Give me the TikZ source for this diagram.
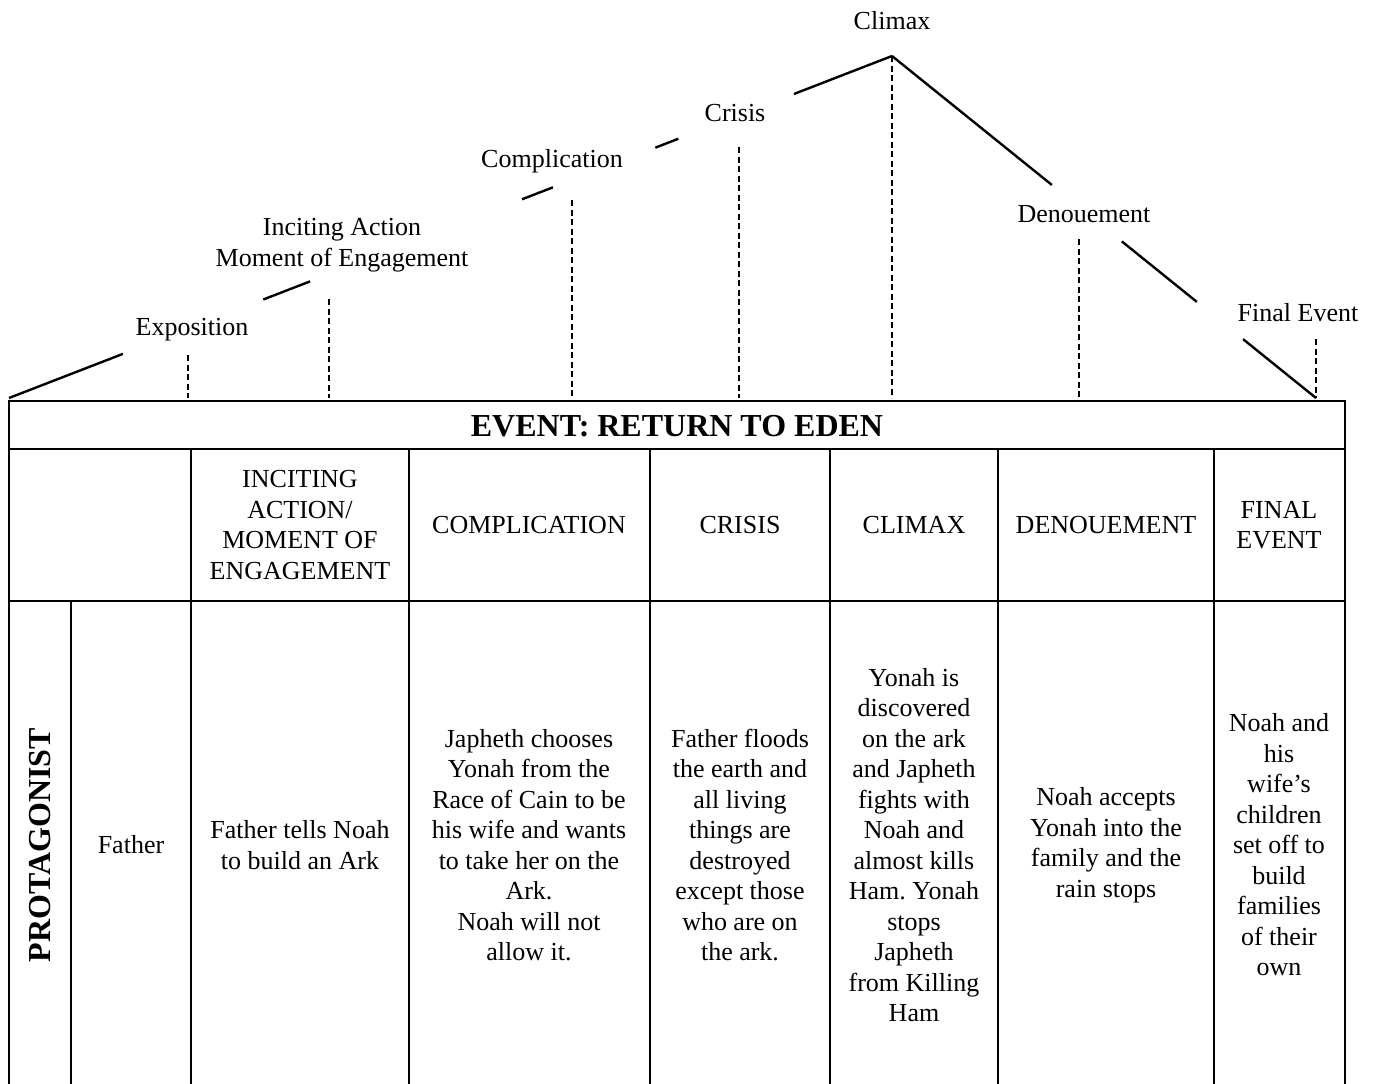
\documentclass[tikz,border=0pt]{standalone}
\usepackage{fontspec}
\setmainfont{Liberation Serif}
\usetikzlibrary{calc}
\frenchspacing

\begin{document}
\begin{tikzpicture}[x=1pt,y=-1pt,
  arc/.style={line width=2.4pt},
  tick/.style={line width=2.2pt,dash pattern=on 6pt off 3.5pt},
  grid/.style={line width=1.6pt},
  lbl/.style={align=center,font=\fontsize{26}{30.5}\selectfont,inner sep=0pt},
  cell/.style={align=center,font=\fontsize{26}{30.5}\selectfont,inner sep=0pt},
  big/.style={font=\fontsize{32}{36}\selectfont\bfseries,inner sep=0pt}]

\useasboundingbox (0,0) rectangle (1379,1084);
\clip (0,0) rectangle (1379,1084);

% plot line
\coordinate (start) at (9,398);
\coordinate (peak) at (892,56);
\coordinate (finish) at (1316,398);

\foreach \a/\b in {0/0.129,0.288/0.341,0.581/0.616,0.732/0.758,0.889/1}
  \draw[arc] ($(start)!\a!(peak)$) -- ($(start)!\b!(peak)$);
\foreach \a/\b in {0/0.377,0.542/0.719,0.828/1}
  \draw[arc] ($(peak)!\a!(finish)$) -- ($(peak)!\b!(finish)$);

\foreach \x/\y in {188/355,329/299,572/200,739/147,892/56,1079/239,1316/339}
  \draw[tick] (\x,\y) -- (\x,398);

\node[lbl] (expo) at (192,330) {Exposition};
\node[lbl] (inci) at (342,245) {Inciting Action\\Moment of Engagement};
\node[lbl] (comp) at (552,161) {Complication};
\node[lbl] (cris) at (735,113) {Crisis};
\node[lbl] (clim) at (892,21) {Climax};
\node[lbl] (deno) at (1084,214) {Denouement};
\node[lbl] (fina) at (1298,313) {Final Event};

% table
\draw[grid] (9,1090) -- (9,401) -- (1345,401) -- (1345,1090);
\draw[grid] (9,449) -- (1345,449);
\draw[grid] (9,601) -- (1345,601);
\foreach \x in {191,409,650,830,998,1214}
  \draw[grid] (\x,449) -- (\x,1090);
\draw[grid] (71,601) -- (71,1090);

\node[big] (ttl) at (677,426) {EVENT: RETURN TO EDEN};

\node[cell] (hInc) at (300,525) {INCITING\\ACTION/\\MOMENT OF\\ENGAGEMENT};
\node[cell] (hComp) at (529,525) {COMPLICATION};
\node[cell] (hCris) at (740,525) {CRISIS};
\node[cell] (hClim) at (914,525) {CLIMAX};
\node[cell] (hDen) at (1106,525) {DENOUEMENT};
\node[cell] (hFin) at (1279,525) {FINAL\\EVENT};

\node[big,rotate=90] (prot) at (40,845) {PROTAGONIST};
\node[cell] (fath) at (131,845) {Father};
\node[cell] (bInc) at (300,845) {Father tells Noah\\to build an Ark};
\node[cell] (bComp) at (529,845) {Japheth chooses\\Yonah from the\\Race of Cain to be\\his wife and wants\\to take her on the\\Ark.\\Noah will not\\allow it.};
\node[cell] (bCris) at (740,845) {Father floods\\the earth and\\all living\\things are\\destroyed\\except those\\who are on\\the ark.};
\node[cell] (bClim) at (914,845) {Yonah is\\discovered\\on the ark\\and Japheth\\fights with\\Noah and\\almost kills\\Ham. Yonah\\stops\\Japheth\\from Killing\\Ham};
\node[cell] (bDen) at (1106,845) {Noah accepts\\Yonah into the\\family and the\\rain stops};
\node[cell] (bFin) at (1279,845) {Noah and\\his\\wife’s\\children\\set off to\\build\\families\\of their\\own};

\end{tikzpicture}
\end{document}
